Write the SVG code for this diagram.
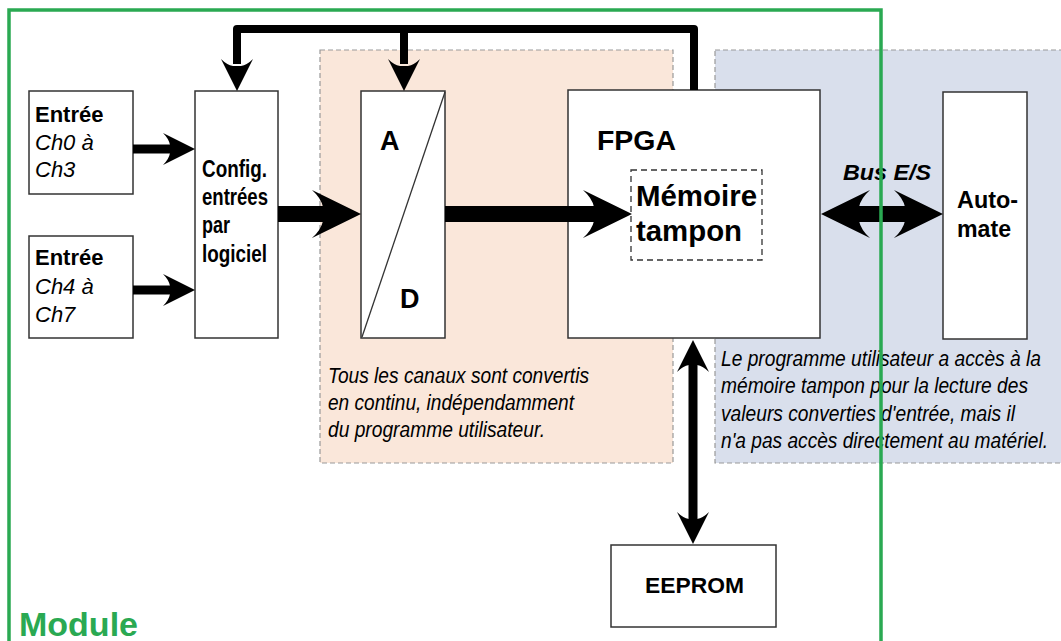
<svg xmlns="http://www.w3.org/2000/svg" xmlns:xlink="http://www.w3.org/1999/xlink" width="1061" height="641" viewBox="0 0 1061 641">
<style>
.box{fill:#fff;stroke:#333;stroke-width:1.5}
.dash{fill:#fff;stroke:#333;stroke-width:1.3;stroke-dasharray:6 4}
.region{stroke:#999;stroke-width:1.2;stroke-dasharray:5 3}
.wire{fill:none;stroke:#000;stroke-linecap:butt;stroke-linejoin:round}
.t{font-family:"Liberation Sans",Arial,sans-serif;fill:#000}
.b{font-weight:bold}
.i{font-style:italic}
</style>
<defs>
<path id="ahB" d="M0,0 L-49,-24 Q-40,-16 -38,-7 L-38,7 Q-40,16 -49,24 Z" fill="#000"/>
<path id="ahS" d="M0,0 L-32,-16 Q-26,-10 -25,-4 L-25,4 Q-26,10 -32,16 Z" fill="#000"/>
</defs>

<g id="regions">
<rect x="320" y="50" width="353" height="413" fill="#fae7da" class="region"/>
<rect x="715" y="50" width="350" height="413" fill="#d9dfec" class="region"/>
</g>

<g id="in1">
<rect class="box" x="29" y="91" width="104" height="103"/>
<text class="t b" x="35" y="122" font-size="22">Entrée</text>
<text class="t i" x="35" y="150" font-size="22">Ch0 à</text>
<text class="t i" x="35" y="177" font-size="22">Ch3</text>
</g>
<g id="in2">
<rect class="box" x="29" y="236" width="104" height="102"/>
<text class="t b" x="35" y="265" font-size="22">Entrée</text>
<text class="t i" x="35" y="294" font-size="22">Ch4 à</text>
<text class="t i" x="35" y="322" font-size="22">Ch7</text>
</g>
<g id="config">
<rect class="box" x="195" y="91" width="83" height="247"/>
<text class="t b" x="202" y="177" font-size="23" textLength="65" lengthAdjust="spacingAndGlyphs">Config.</text>
<text class="t b" x="202" y="205" font-size="23" textLength="66" lengthAdjust="spacingAndGlyphs">entrées</text>
<text class="t b" x="202" y="233" font-size="23" textLength="28" lengthAdjust="spacingAndGlyphs">par</text>
<text class="t b" x="202" y="262" font-size="23" textLength="65" lengthAdjust="spacingAndGlyphs">logiciel</text>
</g>
<g id="adc">
<rect class="box" x="361" y="91" width="84" height="247"/>
<line x1="445" y1="92" x2="362" y2="337" stroke="#333" stroke-width="1.3"/>
<text class="t b" x="380" y="150" font-size="27">A</text>
<text class="t b" x="400" y="308" font-size="27">D</text>
</g>
<g id="fpga">
<rect class="box" x="568" y="90" width="252" height="248"/>
<text class="t b" x="597" y="150" font-size="28" textLength="79" lengthAdjust="spacingAndGlyphs">FPGA</text>
<rect class="dash" x="631" y="170" width="131" height="90"/>
<text class="t b" x="636" y="206" font-size="29" textLength="121" lengthAdjust="spacingAndGlyphs">Mémoire</text>
<text class="t b" x="636" y="241" font-size="29" textLength="106" lengthAdjust="spacingAndGlyphs">tampon</text>
</g>
<g id="automate">
<rect class="box" x="943" y="92" width="84" height="247"/>
<text class="t b" x="957" y="208" font-size="23" textLength="61" lengthAdjust="spacingAndGlyphs">Auto-</text>
<text class="t b" x="957" y="237" font-size="23" textLength="54" lengthAdjust="spacingAndGlyphs">mate</text>
</g>
<g id="eeprom">
<rect class="box" x="611" y="545" width="165" height="82"/>
<text class="t b" x="645" y="593" font-size="22" textLength="99" lengthAdjust="spacingAndGlyphs">EEPROM</text>
</g>

<g id="connectors">
<path class="wire" d="M694,90 V29 H237 V64" stroke-width="8"/>
<path class="wire" d="M404,29 V64" stroke-width="8"/>
<use href="#ahS" transform="translate(237,91) rotate(90)"/>
<use href="#ahS" transform="translate(404,91) rotate(90)"/>
<line class="wire" x1="133" y1="149" x2="170" y2="149" stroke-width="9"/>
<use href="#ahS" transform="translate(195,149)"/>
<line class="wire" x1="133" y1="290" x2="170" y2="290" stroke-width="9"/>
<use href="#ahS" transform="translate(195,290)"/>
<line class="wire" x1="278" y1="214" x2="325" y2="214" stroke-width="16"/>
<use href="#ahB" transform="translate(361,214)"/>
<line class="wire" x1="445" y1="214" x2="595" y2="214" stroke-width="16"/>
<use href="#ahB" transform="translate(632,214)"/>
<line class="wire" x1="855" y1="214" x2="910" y2="214" stroke-width="16"/>
<use href="#ahB" transform="translate(821,214) rotate(180)"/>
<use href="#ahB" transform="translate(943,214)"/>
<line class="wire" x1="693" y1="365" x2="693" y2="520" stroke-width="9"/>
<use href="#ahS" transform="translate(693,340) rotate(-90)"/>
<use href="#ahS" transform="translate(693,544) rotate(90)"/>
</g>

<g id="labels">
<text class="t b i" x="843" y="180" font-size="22" textLength="88" lengthAdjust="spacingAndGlyphs">Bus E/S</text>
<text class="t i" x="328" y="383" font-size="22" textLength="261" lengthAdjust="spacingAndGlyphs">Tous les canaux sont convertis</text>
<text class="t i" x="328" y="410" font-size="22" textLength="246" lengthAdjust="spacingAndGlyphs">en continu, indépendamment</text>
<text class="t i" x="328" y="437" font-size="22" textLength="217" lengthAdjust="spacingAndGlyphs">du programme utilisateur.</text>
<text class="t i" x="721" y="366" font-size="22" textLength="320" lengthAdjust="spacingAndGlyphs">Le programme utilisateur a accès à la</text>
<text class="t i" x="721" y="393" font-size="22" textLength="307" lengthAdjust="spacingAndGlyphs">mémoire tampon pour la lecture des</text>
<text class="t i" x="721" y="421" font-size="22" textLength="294" lengthAdjust="spacingAndGlyphs">valeurs converties d'entrée, mais il</text>
<text class="t i" x="721" y="448" font-size="22" textLength="327" lengthAdjust="spacingAndGlyphs">n'a pas accès directement au matériel.</text>
</g>

<g id="module">
<path d="M9,645 V10 H881 V645" fill="none" stroke="#2aa952" stroke-width="3.5"/>
<text class="t b" x="19" y="636" font-size="34" style="fill:#2aa952">Module</text>
</g>
</svg>
